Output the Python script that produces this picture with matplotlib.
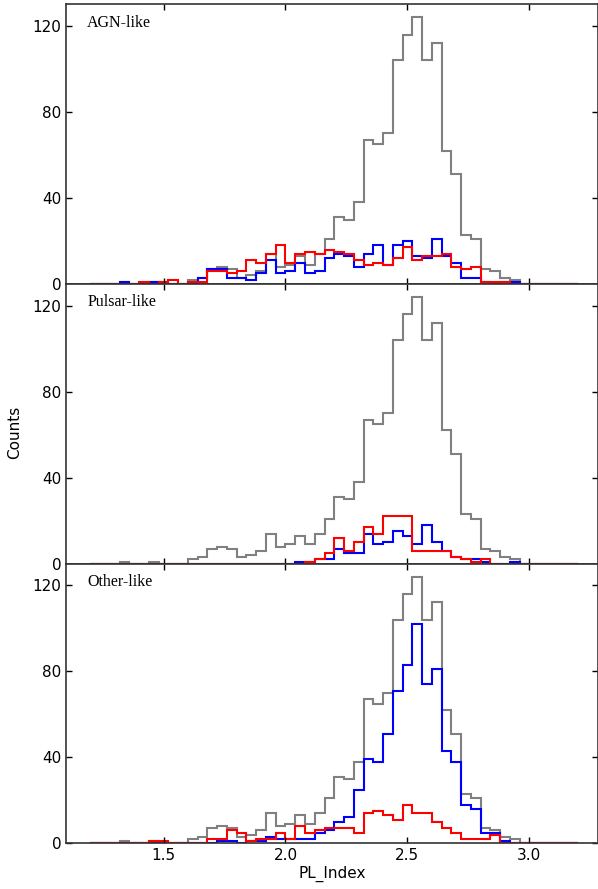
import numpy as np
import matplotlib
matplotlib.use("Agg")
import matplotlib.pyplot as plt

# histogram bins: 1.20 .. 3.20, width 0.04 (50 bins)
bin_start = 1.2
bin_width = 0.04
n_bins = 50

# all sources (same grey histogram in every panel)
total = [0, 0, 0, 1, 0, 0, 1, 0, 0, 0,
         2, 3, 7, 8, 7, 3, 4, 6, 14, 8,
         9, 13, 9, 14, 21, 31, 30, 38, 67, 65,
         70, 104, 116, 124, 104, 112, 62, 51, 23, 21,
         7, 6, 3, 2, 0, 0, 0, 0, 0, 0]

agn_blue = [0, 0, 0, 1, 0, 0, 1, 1, 0, 0,
            0, 3, 7, 7, 3, 3, 2, 5, 11, 5,
            6, 10, 5, 6, 12, 14, 13, 8, 14, 18,
            9, 18, 20, 13, 12, 21, 13, 10, 3, 3,
            1, 0, 1, 1, 0, 0, 0, 0, 0, 0]
agn_red = [0, 0, 0, 0, 0, 1, 0, 1, 2, 0,
           1, 1, 6, 6, 5, 6, 11, 10, 14, 18,
           10, 14, 15, 14, 16, 15, 14, 11, 9, 10,
           9, 12, 17, 11, 13, 13, 14, 8, 7, 8,
           1, 1, 1, 0, 0, 0, 0, 0, 0, 0]

psr_blue = [0, 0, 0, 0, 0, 0, 0, 0, 0, 0,
            0, 0, 0, 0, 0, 0, 0, 0, 0, 0,
            0, 1, 1, 2, 2, 7, 5, 5, 14, 9,
            10, 15, 13, 9, 18, 10, 6, 3, 2, 2,
            1, 0, 0, 1, 0, 0, 0, 0, 0, 0]
psr_red = [0, 0, 0, 0, 0, 0, 0, 0, 0, 0,
           0, 0, 0, 0, 0, 0, 0, 0, 0, 0,
           0, 0, 1, 2, 5, 12, 6, 10, 17, 14,
           22, 22, 22, 6, 6, 6, 6, 3, 2, 1,
           2, 0, 0, 0, 0, 0, 0, 0, 0, 0]

oth_blue = [0, 0, 0, 0, 0, 0, 0, 0, 0, 0,
            0, 0, 0, 1, 1, 0, 1, 1, 3, 2,
            2, 2, 2, 5, 6, 10, 12, 25, 39, 38,
            51, 71, 83, 102, 74, 81, 43, 38, 18, 16,
            5, 5, 1, 0, 0, 0, 0, 0, 0, 0]
oth_red = [0, 0, 0, 0, 0, 0, 1, 1, 0, 0,
           0, 0, 2, 2, 6, 5, 1, 2, 2, 5,
           2, 8, 5, 6, 7, 7, 7, 5, 14, 15,
           13, 11, 18, 14, 14, 10, 7, 5, 2, 2,
           2, 4, 0, 0, 0, 0, 0, 0, 0, 0]

labels = ["AGN-like", "Pulsar-like", "Other-like"]
panels = [(agn_blue, agn_red), (psr_blue, psr_red), (oth_blue, oth_red)]


def main():
    edges = bin_start + bin_width * np.arange(n_bins + 1)

    fig = plt.figure(figsize=(5.98, 8.89), dpi=100)
    left, width, height = 0.1104, 0.889, 0.3145
    bottoms = [0.6805, 0.3659, 0.0514]

    for i in range(3):
        ax = fig.add_axes([left, bottoms[i], width, height])
        blue, red = panels[i]
        ax.stairs(total, edges, color='gray', linewidth=1.5)
        ax.stairs(blue, edges, color='blue', linewidth=1.5)
        ax.stairs(red, edges, color='red', linewidth=1.5)

        ax.set_xlim(1.1, 3.28)
        ax.set_ylim(0, 130)
        ax.set_xticks([1.5, 2.0, 2.5, 3.0])
        ax.set_yticks([0, 40, 80, 120])
        ax.tick_params(direction='in', top=True, right=True, length=4,
                       width=1, labelsize=11)
        for s in ax.spines.values():
            s.set_linewidth(1.2)
            s.set_color('#333333')
        ax.text(0.04, 0.935, labels[i], transform=ax.transAxes,
                family='Liberation Serif', fontsize=11.5, va='center')
        if i < 2:
            ax.tick_params(labelbottom=False)
        else:
            ax.set_xlabel('PL_Index', fontsize=11, labelpad=2)

    fig.text(0.024, 0.514, 'Counts', rotation=90, fontsize=11,
             ha='center', va='center')

    fig.savefig('out.png', dpi=100)
    return 0


if __name__ == "__main__":
    main()
